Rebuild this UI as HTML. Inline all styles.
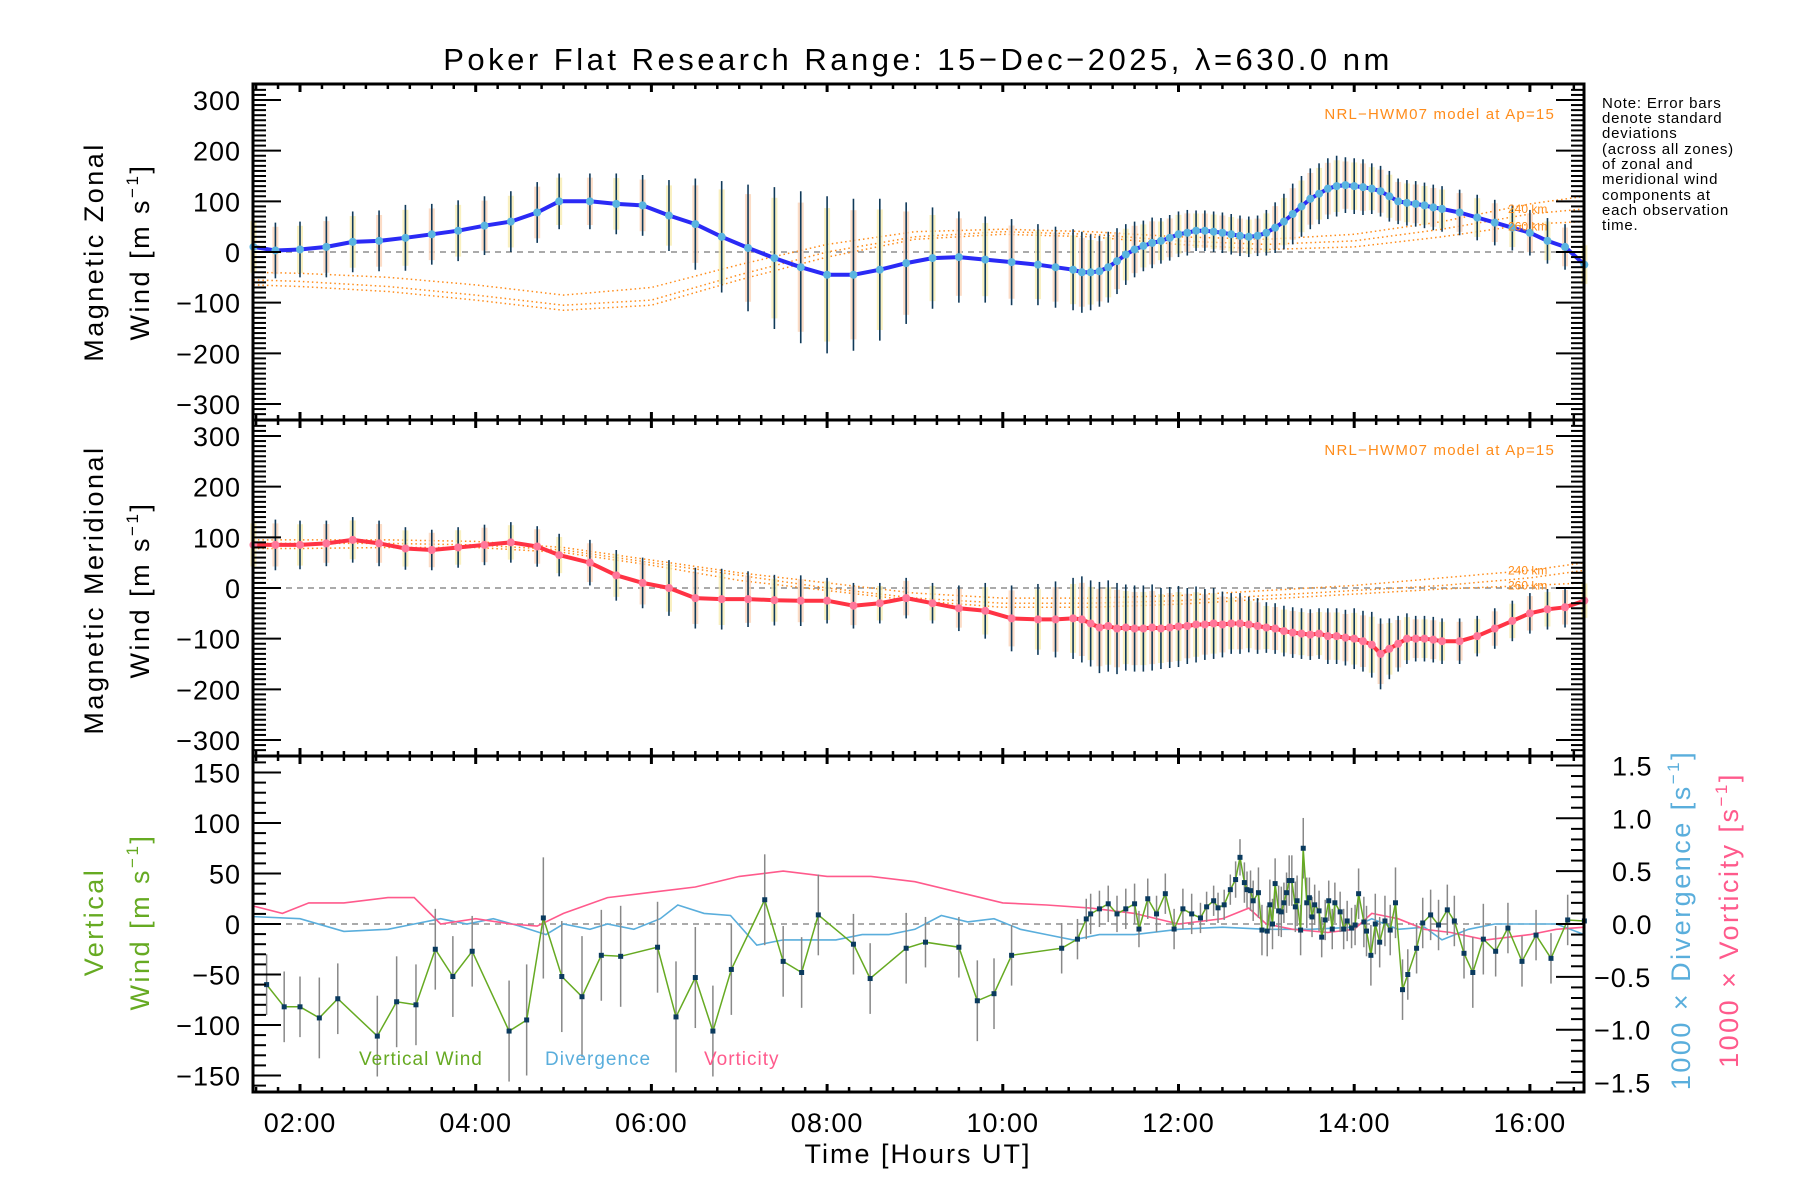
<!DOCTYPE html>
<html><head><meta charset="utf-8">
<style>
html,body{margin:0;padding:0;background:#fff;}
svg{display:block;font-family:"Liberation Sans",sans-serif;}
</style></head>
<body>
<svg id="chart" width="1800" height="1200" viewBox="0 0 1800 1200" xmlns="http://www.w3.org/2000/svg">
<text x="918" y="70" font-size="31" letter-spacing="3.5" text-anchor="middle">Poker Flat Research Range: 15−Dec−2025, λ=630.0 nm</text>
<g font-size="15" letter-spacing="0.8">
<text x="1602" y="108">Note: Error bars</text>
<text x="1602" y="123">denote standard</text>
<text x="1602" y="138">deviations</text>
<text x="1602" y="154">(across all zones)</text>
<text x="1602" y="169">of zonal and</text>
<text x="1602" y="184">meridional wind</text>
<text x="1602" y="200">components at</text>
<text x="1602" y="215">each observation</text>
<text x="1602" y="230">time.</text>
</g>
<g id="layer"></g>
</svg>
<script>
// ---- data ----
const times = [1.47,1.72,2.0,2.3,2.6,2.9,3.2,3.5,3.8,4.1,4.4,4.7,4.95,5.3,5.6,5.9,6.2,6.5,6.8,7.1,7.4,7.7,8.0,8.3,8.6,8.9,9.2,9.5,9.8,10.1,10.4,10.6,10.8,10.9,11.0,11.1,11.2,11.3,11.4,11.5,11.6,11.7,11.8,11.9,12.0,12.1,12.2,12.3,12.4,12.5,12.6,12.7,12.8,12.9,13.0,13.1,13.2,13.3,13.4,13.5,13.6,13.7,13.8,13.9,14.0,14.1,14.2,14.3,14.4,14.5,14.6,14.7,14.8,14.9,15.0,15.2,15.4,15.6,15.8,16.0,16.2,16.4,16.62];
const zonal = [10,3,5,10,20,22,28,35,42,52,60,78,100,100,95,92,72,55,30,8,-12,-30,-45,-45,-35,-22,-12,-10,-15,-20,-25,-30,-35,-40,-40,-38,-30,-18,-5,5,12,18,22,28,35,38,42,42,40,38,35,32,30,32,38,48,60,75,90,105,115,125,130,132,130,128,125,120,110,100,97,95,92,88,85,78,68,58,48,38,22,10,-25];
const zonalSd = [60,55,55,60,60,60,65,60,60,58,60,60,55,55,60,60,70,90,110,125,140,150,155,150,140,120,100,90,85,85,80,80,80,80,75,70,70,65,60,55,50,50,45,45,45,45,40,40,40,40,40,40,40,40,45,50,55,60,60,60,60,60,60,55,55,55,50,50,50,45,45,45,45,45,45,45,45,45,45,45,45,45,45];
const merid = [85,85,85,88,95,88,78,75,80,85,90,82,65,50,25,10,0,-20,-22,-22,-24,-25,-25,-35,-30,-20,-30,-40,-45,-60,-62,-62,-60,-62,-70,-78,-75,-80,-78,-80,-80,-78,-80,-78,-76,-75,-72,-72,-70,-72,-70,-70,-72,-75,-78,-80,-85,-88,-90,-92,-90,-95,-95,-98,-100,-105,-112,-130,-120,-110,-100,-100,-100,-102,-105,-105,-95,-80,-65,-50,-42,-38,-25];
const meridSd = [50,50,48,45,45,45,42,40,40,40,40,40,42,45,50,50,55,60,60,55,50,50,45,45,40,40,40,45,55,65,70,75,80,85,85,90,90,90,85,85,85,85,80,80,80,75,75,70,70,65,60,60,55,55,50,50,50,50,50,50,50,55,55,55,60,60,65,70,60,55,50,45,45,45,45,45,40,40,40,40,40,40,40];
const modelT = [1.47,2,3,4,5,6,7,8,9,10,11,12,13,14,15,16,16.62];
const zModelA = [-40,-42,-50,-65,-85,-70,-25,15,40,45,40,30,25,35,60,95,110];
const zModelB = [-55,-58,-68,-85,-105,-95,-45,0,30,40,35,22,15,22,45,75,85];
const zModelC = [-65,-68,-78,-95,-115,-105,-55,-10,25,35,30,15,5,10,30,55,60];
const mModelA = [95,95,95,92,80,55,30,10,-10,-20,-20,-15,-5,5,20,35,50];
const mModelB = [88,88,88,85,75,50,25,0,-20,-30,-30,-25,-15,-5,5,20,35];
const mModelC = [78,78,80,80,70,45,15,-5,-25,-38,-38,-32,-22,-12,-2,5,10];
const vT = [1.62,1.82,2.0,2.22,2.43,2.88,3.1,3.32,3.54,3.74,3.96,4.38,4.58,4.77,4.98,5.21,5.43,5.65,6.07,6.28,6.5,6.7,6.91,7.29,7.5,7.71,7.9,8.3,8.49,8.9,9.12,9.5,9.71,9.9,10.1,10.67,10.85,10.95,11.0,11.1,11.2,11.3,11.4,11.5,11.55,11.65,11.75,11.85,11.95,12.05,12.15,12.25,12.32,12.40,12.45,12.52,12.59,12.65,12.70,12.75,12.78,12.82,12.85,12.91,12.95,13.01,13.04,13.07,13.10,13.14,13.17,13.20,13.23,13.26,13.29,13.33,13.35,13.39,13.42,13.46,13.49,13.52,13.55,13.60,13.63,13.67,13.71,13.75,13.78,13.84,13.88,13.92,13.97,14.01,14.05,14.11,14.14,14.19,14.24,14.29,14.35,14.41,14.47,14.55,14.61,14.71,14.78,14.87,14.96,15.06,15.14,15.25,15.35,15.47,15.61,15.75,15.91,16.07,16.24,16.43,16.62];
const vWind = [-60,-82,-82,-93,-74,-111,-77,-80,-25,-52,-27,-106,-95,6,-52,-72,-31,-32,-23,-92,-53,-106,-45,24,-37,-48,9,-20,-54,-24,-18,-23,-76,-69,-31,-24,-15,5,10,15,20,10,15,20,-5,25,10,30,-5,15,10,6,17,23,16,19,34,44,66,41,34,33,23,31,-6,-7,19,0,40,13,12,21,31,43,43,17,23,-6,75,21,26,7,19,13,-13,4,23,-5,21,12,-5,3,-4,-1,30,2,-7,-31,0,-18,3,-6,21,-65,-50,-24,1,9,-1,14,3,-29,-48,-15,-27,-4,-37,-11,-34,4,3];
const vSd = [30,35,30,40,35,40,45,40,40,40,35,50,55,60,55,60,45,50,45,55,50,45,45,45,35,35,40,30,35,35,25,30,40,35,30,25,20,20,20,18,18,18,20,20,18,20,18,20,20,20,20,15,15,15,15,15,15,18,18,20,18,20,20,25,25,25,25,25,25,25,25,20,20,25,25,25,25,25,30,25,20,20,20,20,20,20,20,20,20,20,20,20,20,20,25,25,25,30,30,25,25,25,35,30,25,25,25,25,25,25,25,25,35,35,25,25,25,25,25,25,25,25,25,25,25];
const divT = [1.47,2,2.5,3,3.3,3.6,3.9,4.2,4.5,4.8,5.0,5.3,5.5,5.8,6.1,6.3,6.6,6.9,7.2,7.5,7.8,8.1,8.4,8.7,9.0,9.3,9.6,9.9,10.2,10.5,10.8,11.1,11.5,12,12.5,13,13.5,14,14.2,14.5,14.8,15,15.3,15.6,16,16.3,16.62];
const divergence = [0.07,0.05,-0.07,-0.05,0.0,0.05,0.0,0.05,-0.02,-0.1,0.0,-0.05,0.0,-0.05,0.05,0.18,0.1,0.08,-0.2,-0.15,-0.15,-0.15,-0.1,-0.1,-0.05,0.08,0.02,0.05,-0.05,-0.1,-0.15,-0.1,-0.1,-0.05,-0.03,-0.05,-0.05,-0.03,0.05,-0.05,-0.03,-0.15,-0.05,0.0,0.0,0.0,-0.1];
const vortT = [1.47,1.8,2.1,2.5,3.0,3.3,3.6,4.0,4.4,4.7,5.0,5.5,6.0,6.5,7.0,7.5,8.0,8.5,9.0,9.5,10.0,10.5,11,11.5,12,12.5,12.8,13,13.3,13.7,14,14.2,14.5,14.8,15.1,15.5,16,16.3,16.62];
const vorticity = [0.17,0.1,0.2,0.2,0.25,0.25,0.0,0.05,0.0,-0.02,0.1,0.25,0.3,0.35,0.45,0.5,0.45,0.45,0.4,0.3,0.2,0.18,0.15,0.1,0.0,0.05,0.15,0.0,-0.05,-0.08,-0.05,0.1,0.05,-0.05,-0.08,-0.15,-0.1,-0.05,-0.03];
const xTickLabels = ["02:00","04:00","06:00","08:00","10:00","12:00","14:00","16:00"];
const windTickLabels = ["300","200","100","0","−100","−200","−300"];
const vertTickLabels = ["150","100","50","0","−50","−100","−150"];
const ratioTickLabels = ["1.5","1.0","0.5","0.0","−0.5","−1.0","−1.5"];

// ---- geometry ----
const NS="http://www.w3.org/2000/svg";
const L=253,R=1584;
const P=[{top:84,bot:420},{top:420,bot:756},{top:756,bot:1092}];
const X=h=>300+(h-2)*87.85;
const yWind=(p,v)=>{const c=(P[p].top+P[p].bot)/2;return c-v*(304/600);};
const yVert=v=>924-v*1.01;
const yRatio=v=>924-v*105.7;
const layer=document.getElementById('layer');
function el(tag,attrs,parent){const e=document.createElementNS(NS,tag);for(const k in attrs)e.setAttribute(k,attrs[k]);(parent||layer).appendChild(e);return e;}
function grp(name){const g=el('g',{});


return g;}
function poly(xs,ys,fn,yfn,attrs,g){let d='';for(let i=0;i<xs.length;i++){d+=(i?'L':'M')+fn(xs[i]).toFixed(1)+','+yfn(ys[i]).toFixed(1);}return el('path',Object.assign({d:d,fill:'none'},attrs),g);}

// ---- panels 1 & 2 ----
[[0,zonal,zonalSd,'#2a2af5','#5ab4e0',[zModelA,zModelB,zModelC],'zonal'],[1,merid,meridSd,'#ff3344','#ff7799',[mModelA,mModelB,mModelC],'meridional']].forEach(cfg=>{
  const [p,vals,sds,lc,dc,models,nm]=cfg;
  const yf=v=>yWind(p,v);
  const g=grp(nm+'-panel');
  el('line',{x1:L,x2:R,y1:yf(0),y2:yf(0),stroke:'#777','stroke-width':1.3,'stroke-dasharray':'6,5'},g);
  models.forEach((m,i)=>{const pth=poly(modelT,m,X,yf,{stroke:'#ff8c1a','stroke-width':1.5,'stroke-dasharray':'1.5,3'},g);
    
    });
  for(let i=0;i<times.length;i++){
    const x=X(times[i]);
    const r1=el('rect',{x:x-3,y:yf(vals[i]+sds[i]*0.85),width:6,height:yf(vals[i]-sds[i]*0.85)-yf(vals[i]+sds[i]*0.85),fill:i%2?'#fbd3b8':'#f7ecb0',opacity:0.8},g);
    
    
  }
  for(let i=0;i<times.length;i++){
    const x=X(times[i]);
    const b=el('line',{x1:x,x2:x,y1:yf(vals[i]+sds[i]),y2:yf(vals[i]-sds[i]),stroke:'#103a5a','stroke-width':1.6},g);
    
    
  }
  const ln=poly(times,vals,X,yf,{stroke:lc,'stroke-width':4,'stroke-linejoin':'round'},g);
  
  
  for(let i=0;i<times.length;i++){
    const c=el('circle',{cx:X(times[i]),cy:yf(vals[i]),r:4,fill:dc},g);
    
    
  }
  const t=el('text',{x:1555,y:P[p].top+35,'font-size':15,'letter-spacing':1.2,fill:'#ff8c1a','text-anchor':'end'},g);
  t.textContent='NRL−HWM07 model at Ap=15';
  
  
  const yA=p===0?85:35, yB=p===0?50:5;
  [[yA,'240 km'],[yB,'260 km']].forEach(a=>{const tt=el('text',{x:1508,y:yf(a[0])+4,'font-size':12,fill:'#ff8c1a'},g);tt.textContent=a[1];
    
    });
});

// ---- panel 3 ----
(function(){
  const g=grp('vertical-panel');
  el('line',{x1:L,x2:R,y1:924,y2:924,stroke:'#777','stroke-width':1.3,'stroke-dasharray':'6,5'},g);
  const dv=poly(divT,divergence,X,yRatio,{stroke:'#5aaedc','stroke-width':1.6},g);
  
  
  const vo=poly(vortT,vorticity,X,yRatio,{stroke:'#ff5a8c','stroke-width':1.6},g);
  
  
  for(let i=0;i<vT.length;i++){
    const b=el('line',{x1:X(vT[i]),x2:X(vT[i]),y1:yVert(vWind[i]+vSd[i]),y2:yVert(vWind[i]-vSd[i]),stroke:'#888','stroke-width':1.5},g);
    
    
  }
  const vl=poly(vT,vWind,X,yVert,{stroke:'#66aa22','stroke-width':1.5},g);
  
  
  for(let i=0;i<vT.length;i++){
    const r=el('rect',{x:X(vT[i])-2.5,y:yVert(vWind[i])-2.5,width:5,height:5,fill:'#0a3a5e'},g);
    
    
  }
  [['Vertical Wind',359,'#66aa22','legend-vertical-wind'],['Divergence',545,'#5aaedc','legend-divergence'],['Vorticity',704,'#ff5a8c','legend-vorticity']].forEach(a=>{
    const t=el('text',{x:a[1],y:1065,'font-size':19,'letter-spacing':1,fill:a[2]},g);t.textContent=a[0];
    
    
  });
})();

// ---- axes ----
const ax=grp('axes');
P.forEach((pp,p)=>{
  el('rect',{x:L,y:pp.top,width:R-L,height:pp.bot-pp.top,fill:'none',stroke:'#000','stroke-width':3},ax);
  for(let q=6;q<=66;q++){const h=q/4;if(h<1.47||h>16.62)continue;const x=X(h);const maj=(q%8===0);const len=maj?8:5;
    el('line',{x1:x,x2:x,y1:pp.top,y2:pp.top+len,stroke:'#000','stroke-width':maj?3:2.5},ax);
    el('line',{x1:x,x2:x,y1:pp.bot,y2:pp.bot-len,stroke:'#000','stroke-width':maj?3:2.5},ax);}
  if(p<2){
    for(let v=-330;v<=330;v+=10){const y=yWind(p,v);if(y<pp.top+2||y>pp.bot-2)continue;const maj=(v%100===0);const len=maj?28:13;
      el('line',{x1:L,x2:L+len,y1:y,y2:y,stroke:'#000','stroke-width':2},ax);
      el('line',{x1:R,x2:R-len,y1:y,y2:y,stroke:'#000','stroke-width':2},ax);}
    windTickLabels.forEach((s,i)=>{const t=el('text',{x:241,y:yWind(p,300-100*i)+10,'font-size':27,'letter-spacing':1,'text-anchor':'end'},ax);t.textContent=s;
      
      });
  } else {
    for(let v=-160;v<=160;v+=10){const y=yVert(v);if(y<pp.top+2||y>pp.bot-2)continue;const maj=(v%50===0);const len=maj?28:13;
      el('line',{x1:L,x2:L+len,y1:y,y2:y,stroke:'#000','stroke-width':2},ax);}
    for(let k=-15;k<=15;k++){const y=yRatio(k/10);const maj=(k%5===0);const len=maj?28:13;
      el('line',{x1:R,x2:R-len,y1:y,y2:y,stroke:'#000','stroke-width':2},ax);}
    vertTickLabels.forEach((s,i)=>{const t=el('text',{x:241,y:yVert(150-50*i)+10,'font-size':27,'letter-spacing':1,'text-anchor':'end'},ax);t.textContent=s;
      
      });
    ratioTickLabels.forEach((s,i)=>{const t=el('text',{x:s[0]==='−'?1594:1612,y:yRatio(1.5-0.5*i)+10,'font-size':27,'letter-spacing':1},ax);t.textContent=s;
      
      });
  }
});
xTickLabels.forEach((s,i)=>{const t=el('text',{x:X(2+2*i),y:1132,'font-size':27,'letter-spacing':1,'text-anchor':'middle'},ax);t.textContent=s;
  
  });
const xt=el('text',{x:918,y:1163,'font-size':27,'letter-spacing':2,'text-anchor':'middle'},ax);xt.textContent='Time [Hours UT]';



function rotTitle(x,y,lines,color,name){
  const t=el('text',{transform:'translate('+x+','+y+') rotate(-90)','font-size':27,'letter-spacing':2.5,'text-anchor':'middle',fill:color},ax);
  t.innerHTML=lines;
  
  
}
rotTitle(103,252,'Magnetic Zonal','#000','zonal-y-title-1');
rotTitle(149,252,'Wind [m s<tspan font-size="17" dy="-11">−1</tspan><tspan dy="11">]</tspan>','#000','zonal-y-title-2');
rotTitle(103,590,'Magnetic Meridional','#000','meridional-y-title-1');
rotTitle(149,590,'Wind [m s<tspan font-size="17" dy="-11">−1</tspan><tspan dy="11">]</tspan>','#000','meridional-y-title-2');
rotTitle(103,922,'Vertical','#66aa22','vertical-y-title-1');
rotTitle(149,922,'Wind [m s<tspan font-size="17" dy="-11">−1</tspan><tspan dy="11">]</tspan>','#66aa22','vertical-y-title-2');
rotTitle(1690,920,'1000 × Divergence [s<tspan font-size="17" dy="-11">−1</tspan><tspan dy="11">]</tspan>','#5aaedc','divergence-axis-title');
rotTitle(1738,920,'1000 × Vorticity [s<tspan font-size="17" dy="-11">−1</tspan><tspan dy="11">]</tspan>','#ff5a8c','vorticity-axis-title');
</script>
</body></html>
